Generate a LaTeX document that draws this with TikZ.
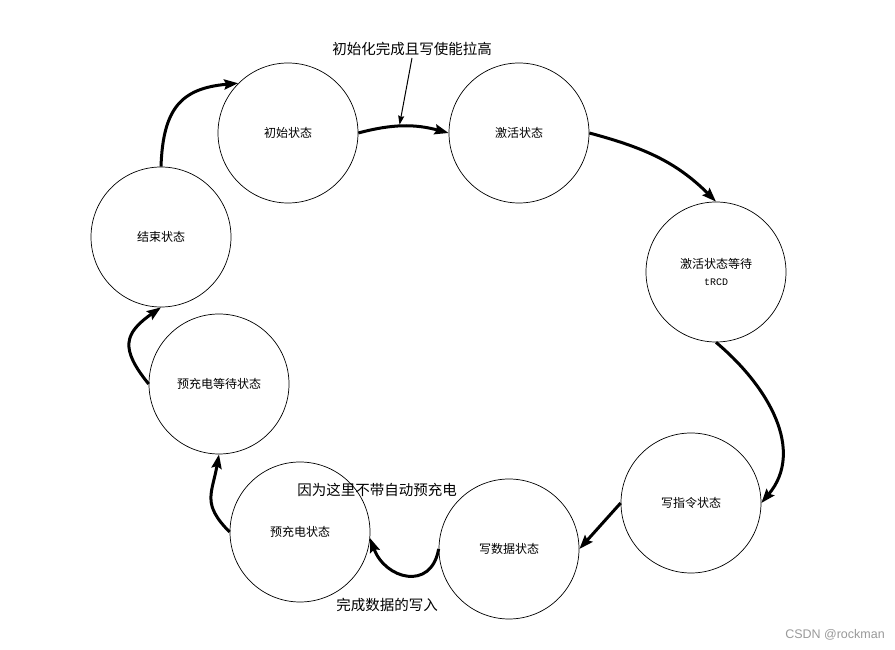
\documentclass[tikz,border=0pt]{standalone}
\usepackage{fontspec}
\setmainfont{Noto Sans CJK SC}
\newfontfamily\monofont{Liberation Mono}
\newfontfamily\markfont{Liberation Sans}
\usetikzlibrary{arrows.meta}
\tikzset{
    statenode/.style={
        circle,
        draw=black, % 黑色细边框
        line width=0.7pt,
        minimum size=140pt,
        inner sep=0,
        align=center,
        font=\fontsize{12}{15}\selectfont
    },
    transarrow/.style={
        -{Stealth[length=14pt,width=10pt,inset=2pt]},
        line width=3pt % 状态转移用粗线
    },
    notearrow/.style={
        -{Stealth[length=9pt,width=6pt,inset=1pt]},
        line width=1pt
    },
    notetext/.style={
        inner sep=2pt,
        font=\fontsize{14.5}{17}\selectfont
    }
}

\begin{document}
\begin{tikzpicture}[x=1pt,y=1pt]
    \useasboundingbox (0,0) rectangle (895,650);
    % 状态
    \node[statenode] (init)    at (288,517) {初始状态};
    \node[statenode] (act)     at (519,517) {激活状态};
    \node[statenode] (actwait) at (716,378) {激活状态等待\\[1.5pt]{\monofont\fontsize{10}{10}\selectfont tRCD}};
    \node[statenode] (wcmd)    at (691,147) {写指令状态};
    \node[statenode] (wdata)   at (509,101) {写数据状态};
    \node[statenode] (pre)     at (300,118) {预充电状态};
    \node[statenode] (prewait) at (219,266) {预充电等待状态};
    \node[statenode] (finish)  at (161,413) {结束状态};
    % 转移
    \draw[transarrow] (init.east) to[bend left=15] coordinate[pos=0.45] (hit) (act.west);
    \draw[transarrow] (act.east) to[out=-15,in=135] (actwait.north);
    \draw[transarrow] (actwait.south) to[out=-40,in=50,looseness=1.05] (wcmd.east);
    \draw[transarrow] (wcmd.west) -- (wdata.east);
    \draw[transarrow] (wdata.west) to[out=-100,in=-70,looseness=1.6] (pre.-5);
    \draw[transarrow] (pre.west) to[out=135,in=-100,looseness=1.3] (prewait.south);
    \draw[transarrow] (prewait.west) to[out=129,in=-145,looseness=1.5] (finish.south);
    \draw[transarrow] (finish.north) to[out=88,in=185,looseness=1.3] (init.135);
    % 注释
    \node[notetext] (note1) at (412,601) {初始化完成且写使能拉高};
    \draw[notearrow,shorten >=1.5pt] (note1.south) -- (hit);
    \node[notetext] (note2) at (377,160) {因为这里不带自动预充电};
    \node[notetext] (note3) at (387,45) {完成数据的写入};
    \node[font=\markfont\fontsize{12.5}{14}\selectfont, text=gray!80] (mark) at (835,15) {CSDN @rockman};
\end{tikzpicture}
\end{document}
